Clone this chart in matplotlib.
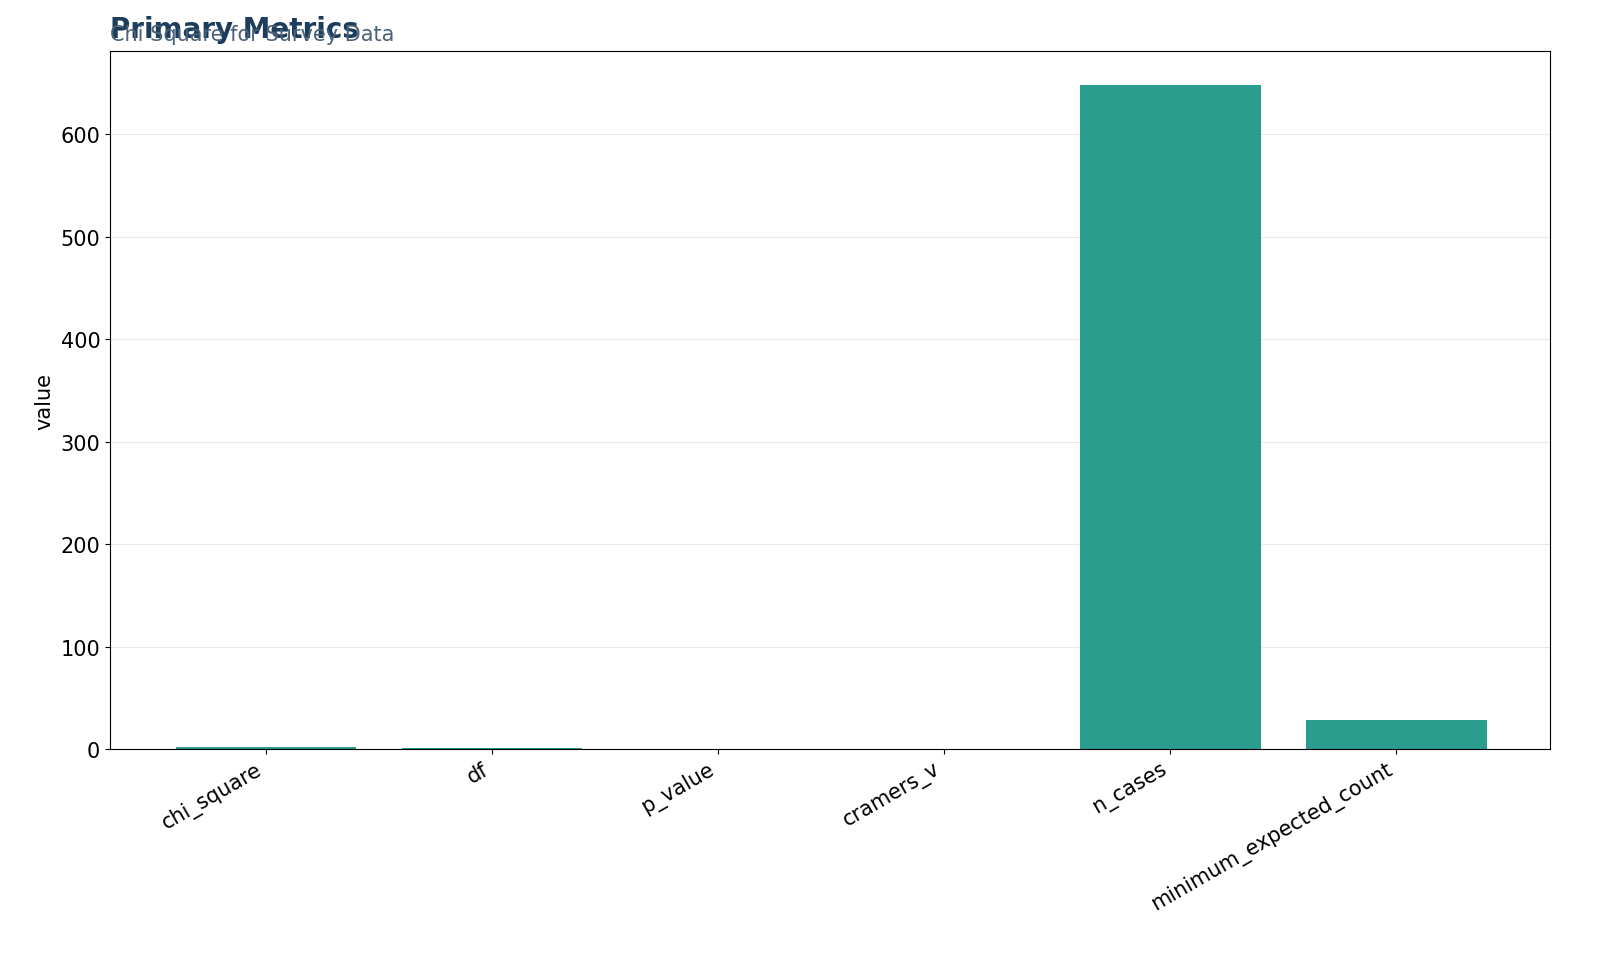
import matplotlib
matplotlib.use("Agg")
import matplotlib.pyplot as plt

metrics = ["chi_square", "df", "p_value", "cramers_v", "n_cases", "minimum_expected_count"]
values = [2.3, 1.0, 0.13, 0.06, 648, 28]

fig = plt.figure(figsize=(16, 9.78), dpi=100)
ax = fig.add_axes([110 / 1600, 1 - 750 / 978, 1440 / 1600, 698 / 978])
ax.bar(range(len(metrics)), values, width=0.8, color="#2a9d8f", zorder=2)
ax.set_xticks(range(len(metrics)))
ax.set_xticklabels(metrics, rotation=30, ha="right", fontsize=15)
ax.tick_params(axis="y", labelsize=15)
ax.set_ylabel("value", fontsize=15)
ax.set_ylim(0, 681)
ax.set_xlim(-0.69, 5.68)
ax.grid(axis="y", color="#e8e8e8", zorder=0)
ax.set_axisbelow(True)

fig.text(110 / 1600, 1 - 30 / 978, "Primary Metrics", fontsize=20, fontweight="bold",
         color="#1d3d5c", va="center", ha="left")
fig.text(110 / 1600, 1 - 35 / 978, "Chi Square for Survey Data", fontsize=15,
         color="#4a6278", va="center", ha="left")

fig.savefig("out.png", dpi=100)
